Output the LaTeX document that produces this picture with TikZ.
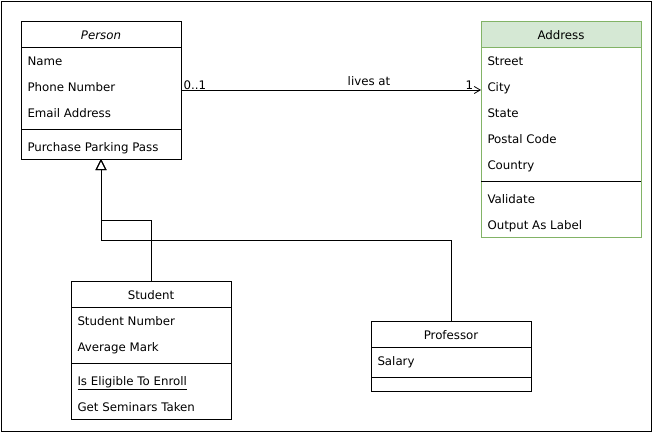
\documentclass[tikz,border=0pt]{standalone}
\usepackage{fontspec}
\setmainfont{DejaVu Sans}
\usetikzlibrary{arrows.meta}
\definecolor{hdrfill}{HTML}{D5E8D4}
\definecolor{hdrdraw}{HTML}{82B366}
\begin{document}
\begin{tikzpicture}[x=1pt,y=-1pt,line width=1pt,
  font=\fontsize{11.8}{14}\selectfont,
  classbox/.style={draw=black, minimum width=160pt, inner sep=0pt, outer sep=0pt},
  attr/.style={anchor=base west, inner sep=0pt},
  title/.style={anchor=base, inner sep=0pt},
  lbl/.style={anchor=base west, inner sep=0pt},
  gen/.style={-{Triangle[open,length=11pt,width=11pt]}}]
\useasboundingbox (0,0) rectangle (654,434);
\draw (1,1) rectangle (651,431);

% Person
\node[classbox, minimum height=138pt] (person) at (101,90) {};
\draw (21,47) -- (181,47);
\draw (21,129) -- (181,129);
\node[title] (pt) at (101,39.3) {\itshape Person};
\node[attr] (p1) at (27,65.1) {Name};
\node[attr] (p2) at (27,91.1) {Phone Number};
\node[attr] (p3) at (27,117.1) {Email Address};
\node[attr] (p4) at (27,151.1) {Purchase Parking Pass};

% Address
\fill[hdrfill] (481,21) rectangle (641,47);
\node[classbox, draw=hdrdraw, minimum height=216pt] (address) at (561,129) {};
\draw[hdrdraw] (481,47) -- (641,47);
\draw (481,181) -- (641,181);
\node[title] (at) at (561,39.3) {Address};
\node[attr] (a1) at (487,65.1) {Street};
\node[attr] (a2) at (487,91.1) {City};
\node[attr] (a3) at (487,117.1) {State};
\node[attr] (a4) at (487,143.1) {Postal Code};
\node[attr] (a5) at (487,169.1) {Country};
\node[attr] (a6) at (487,203.1) {Validate};
\node[attr] (a7) at (487,229.1) {Output As Label};

% Student
\node[classbox, minimum height=138pt] (student) at (151,350) {};
\draw (71,307) -- (231,307);
\draw (71,363) -- (231,363);
\node[title] (st) at (151,299.3) {Student};
\node[attr] (s1) at (77,325.1) {Student Number};
\node[attr] (s2) at (77,351.1) {Average Mark};
\node[attr] (s3) at (77,385.1) {\underline{Is Eligible To Enroll}};
\node[attr] (s4) at (77,411.1) {Get Seminars Taken};

% Professor
\node[classbox, minimum height=70pt] (professor) at (451,356) {};
\draw (371,347) -- (531,347);
\draw (371,377) -- (531,377);
\node[title] (prt) at (451,339.3) {Professor};
\node[attr] (pr1) at (377,365.1) {Salary};

% Association
\draw[-{Straight Barb[length=6pt,width=7pt,line width=0.8pt]}] (person.east) -- (person.east -| address.west);
\node[anchor=base, inner sep=0pt] (livesat) at (369,85.5) {lives at};
\node[lbl] (m0) at (183,89.5) {0..1};
\node[lbl] (m1) at (465,89.5) {1};

% Generalisations
\draw[gen] (student.north) -- ++(0,-61) -| (person.south);
\draw[gen] (professor.north) -- ++(0,-81) -| (person.south);
\end{tikzpicture}
\end{document}
